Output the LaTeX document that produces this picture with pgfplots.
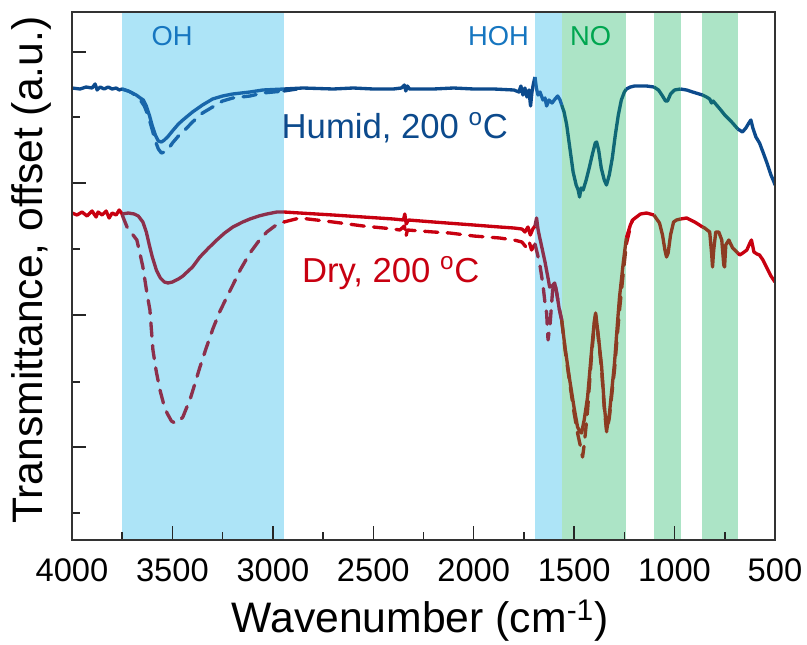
\documentclass[border=0pt]{standalone}
\usepackage{fontspec}
\setmainfont{Liberation Sans}
\usepackage{pgfplots}
\pgfplotsset{compat=1.18}
\usepackage{pgfplotstable}

\definecolor{hb}{RGB}{12,74,140}
\definecolor{hbl}{RGB}{24,102,170}
\definecolor{hbg}{RGB}{16,104,118}
\definecolor{dr}{RGB}{200,0,16}
\definecolor{drb}{RGB}{140,48,76}
\definecolor{drg}{RGB}{140,60,34}
\definecolor{shb}{RGB}{173,228,247}
\definecolor{shg}{RGB}{172,228,198}
\definecolor{ohc}{RGB}{22,118,192}
\definecolor{noc}{RGB}{0,166,80}

\pgfplotstableread{
x y
4000 452
3960 451
3930 453
3900 452
3885 456
3875 450
3860 453
3840 451
3820 453
3800 451
3780 452
3765 450
3750 451
3720 449
3700 447
3680 445
3660 442
3645 440
3630 434
3615 425
3600 414
3585 405
3570 399
3555 398
3540 400
3520 404
3500 409
3470 416
3448 420
3400 428
3350 435
3300 441
3250 444
3200 446
3114 448
3050 450
2945 451
2850 452
2700 451
2600 452
2500 451
2400 451
2360 452
2345 455
2338 449
2330 454
2320 451
2200 451
2100 452
2000 451
1900 451
1800 450
1775 448
1765 454
1755 445
1745 452
1735 443
1725 450
1717 434
1710 448
1703 456
1695 463
1688 452
1680 445
1670 448
1655 440
1645 442
1637 434
1625 440
1610 437
1595 441
1582 444
1570 440
1562 435
1550 428
1537 415
1520 390
1505 368
1490 355
1480 350
1473 343
1465 352
1455 350
1440 360
1425 372
1410 385
1395 397
1388 398
1378 390
1365 372
1350 360
1339 355
1325 365
1310 382
1295 405
1280 425
1265 440
1250 448
1240 451
1220 453
1200 454
1174 454
1140 454
1103 453
1080 450
1060 444
1045 439
1035 439
1020 446
1000 450
970 451
940 450
910 448
861 445
841 443
825 441
816 437
808 439
791 435
770 430
750 425
730 421
711 417
685 411
662 408
645 412
630 417
620 420
610 412
595 403
577 397
560 388
540 377
520 365
505 358
500 355
}\hs

\pgfplotstableread{
x y
3750 451
3720 449
3700 447
3680 444
3660 440
3640 434
3620 424
3600 410
3585 399
3570 391
3555 387
3540 388
3520 391
3500 397
3470 404
3448 408
3400 418
3350 427
3300 433
3250 439
3200 442
3114 444
3050 447
2945 449
2880 451
}\hd

\pgfplotstableread{
x y
4000 327
3975 325
3950 328
3925 324
3900 329
3880 323
3870 328
3850 325
3830 329
3815 322
3800 327
3780 325
3765 330
3750 326
3720 327
3690 326
3670 324
3647 318
3630 308
3615 295
3600 283
3580 270
3560 262
3540 258
3522 257
3500 258
3470 261
3448 264
3400 273
3363 283
3320 292
3279 300
3240 307
3199 313
3150 318
3114 321
3070 324
3030 326
2980 328
2945 328
2866 327
2700 325
2550 323
2400 321
2350 320
2343 326
2336 316
2325 320
2200 318
2000 315
1871 313
1800 312
1760 311
1745 308
1730 313
1718 305
1706 311
1695 314
1687 322
1680 311
1672 303
1660 292
1645 278
1630 262
1622 253
1610 254
1597 257
1585 245
1575 232
1562 220
1545 192
1522 160
1500 132
1483 113
1470 108
1463 107
1450 120
1433 143
1415 185
1400 218
1393 227
1380 205
1363 173
1350 135
1338 110
1325 125
1310 155
1299 177
1285 215
1274 243
1255 278
1240 302
1220 315
1209 320
1170 326
1139 327
1103 325
1075 317
1060 305
1048 290
1040 283
1032 287
1020 305
1005 318
990 320
970 321
940 322
900 318
876 315
861 313
850 312
825 308
815 285
811 273
805 290
795 308
780 308
765 300
755 275
751 273
745 295
730 300
711 292
685 287
676 285
660 287
640 290
625 297
617 300
605 288
590 286
577 285
560 280
540 272
520 264
500 258
}\ds

\pgfplotstableread{
x y
3750 325
3726 313
3700 306
3677 300
3660 285
3647 273
3627 247
3612 230
3597 190
3580 168
3562 150
3545 137
3527 127
3505 119
3488 117
3470 118
3448 123
3430 132
3413 140
3390 155
3363 173
3330 193
3299 211
3265 228
3229 243
3199 255
3160 271
3114 287
3070 299
3030 308
2990 314
2945 318
2866 322
2700 318
2550 314
2400 311
2368 310
2345 314
2338 303
2330 310
2200 308
2119 307
2000 304
1871 302
1800 300
1760 298
1740 293
1725 299
1712 290
1695 296
1690 292
1672 277
1655 255
1645 237
1637 227
1630 200
1620 215
1607 250
1595 257
1585 245
1575 232
1562 220
1545 190
1522 157
1500 127
1483 107
1470 95
1458 83
1450 95
1440 115
1433 130
1415 180
1400 215
1393 225
1380 203
1363 170
1350 132
1338 108
1325 122
1310 150
1299 170
1285 205
1274 230
1255 268
1240 296
1220 313
1209 320
}\dd

\newcommand\fullcurve[5]{%
 \addplot[#5, color=#2, restrict x to domain=3750:4000] table {#1};
 \addplot[#5, color=#3, restrict x to domain=2945:3750] table {#1};
 \addplot[#5, color=#2, restrict x to domain=1695:2945] table {#1};
 \addplot[#5, color=#3, restrict x to domain=1562:1695] table {#1};
 \addplot[#5, color=#4, restrict x to domain=1240:1562] table {#1};
 \addplot[#5, color=#2, restrict x to domain=1103:1240] table {#1};
 \addplot[#5, color=#4, restrict x to domain=970:1103] table {#1};
 \addplot[#5, color=#2, restrict x to domain=861:970] table {#1};
 \addplot[#5, color=#4, restrict x to domain=685:861] table {#1};
 \addplot[#5, color=#2, restrict x to domain=500:685] table {#1};
}

\begin{document}
\begin{tikzpicture}
\begin{axis}[
  scale only axis, width=527.25pt, height=396pt,
  xmin=500, xmax=4000, x dir=reverse, ymin=0, ymax=528,
  xtick={500,1000,...,4000}, minor xtick={750,1250,...,3750},
  ytick={93,225,357,488}, minor ytick={27,158,291,423}, yticklabels={},
  tick align=inside, xtick pos=bottom, ytick pos=left,
  major tick length=10.5pt, minor tick length=6pt,
  tick style={line width=1.1pt, black!85},
  axis line style={line width=1.2pt, black!80},
  /pgf/number format/assume math mode=true, /pgf/number format/1000 sep={},
  xticklabel style={font=\fontsize{24.5}{28}\selectfont, inner sep=0pt, anchor=north, yshift=-14pt},
  xlabel={Wavenumber (cm\textsuperscript{-1})},
  ylabel={Transmittance, offset (a.u.)},
  xlabel style={font=\fontsize{32}{36}\selectfont, at={(rel axis cs:0.495,-0.176)}, anchor=base},
  ylabel style={font=\fontsize{32}{36}\selectfont, at={(rel axis cs:-0.0417,0.511)}, anchor=base, rotate=0},
  axis on top,
  every axis plot/.append style={line width=2.5pt, line join=round},
]
\fill[shb] (axis cs:3750,0) rectangle (axis cs:2945,528);
\fill[shb] (axis cs:1695,0) rectangle (axis cs:1562,528);
\fill[shg] (axis cs:1562,0) rectangle (axis cs:1240,528);
\fill[shg] (axis cs:1103,0) rectangle (axis cs:970,528);
\fill[shg] (axis cs:861,0) rectangle (axis cs:685,528);

% humid dashed
\addplot[dash pattern=on 10pt off 7pt, line cap=round, color=hbl, restrict x to domain=2945:3750] table {\hd};
\addplot[dash pattern=on 10pt off 7pt, line cap=round, color=hb, restrict x to domain=2880:2945] table {\hd};
% dry dashed
\addplot[dash pattern=on 10pt off 7pt, line cap=round, color=drb, restrict x to domain=2945:3750] table {\dd};
\addplot[dash pattern=on 10pt off 7pt, line cap=round, color=dr, restrict x to domain=1695:2945] table {\dd};
\addplot[dash pattern=on 10pt off 7pt, line cap=round, color=drb, restrict x to domain=1562:1695] table {\dd};
\addplot[dash pattern=on 10pt off 7pt, line cap=round, color=drg, restrict x to domain=1240:1562] table {\dd};
\addplot[dash pattern=on 10pt off 7pt, line cap=round, color=dr, restrict x to domain=1209:1240] table {\dd};
% solid curves
\fullcurve{\hs}{hb}{hbl}{hbg}{solid}
\fullcurve{\ds}{dr}{drb}{drg}{solid}

\node[font=\fontsize{20.5}{24}\selectfont, text=ohc, anchor=base, inner sep=0pt] at (axis cs:3502,495) {OH};
\node[font=\fontsize{20.5}{24}\selectfont, text=ohc, anchor=base, inner sep=0pt] at (axis cs:1876,495) {HOH};
\node[font=\fontsize{20.5}{24}\selectfont, text=noc, anchor=base, inner sep=0pt] at (axis cs:1418,495) {NO};
\node[font=\fontsize{26}{30}\selectfont, text=hb, anchor=base, inner sep=0pt] at (axis cs:2393,402) {Humid, 200 \textsuperscript{o}C};
\node[font=\fontsize{26}{30}\selectfont, text=dr, anchor=base, inner sep=0pt] at (axis cs:2413,258) {Dry, 200 \textsuperscript{o}C};

\coordinate (BL) at (rel axis cs:0,0);
\coordinate (TR) at (rel axis cs:1,1);
\end{axis}
\pgfresetboundingbox
\useasboundingbox ([xshift=-54pt,yshift=-78pt]BL) rectangle ([xshift=24pt,yshift=9pt]TR);
\end{tikzpicture}
\end{document}
